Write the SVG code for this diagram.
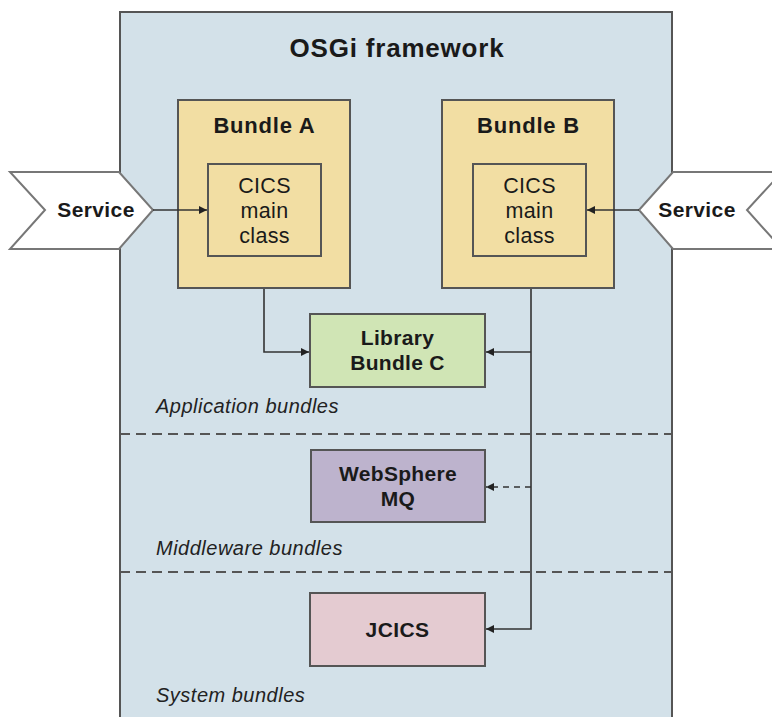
<svg xmlns="http://www.w3.org/2000/svg" width="772" height="717" viewBox="0 0 772 717">
<style>
.t{font-family:"Liberation Sans",Arial,sans-serif;fill:#1a1a1a;text-anchor:middle}
.b{font-weight:bold}
.lbl{font-family:"Liberation Sans",Arial,sans-serif;font-style:italic;fill:#222;font-size:20px;letter-spacing:0.5px}
.box{stroke:#555;stroke-width:2}
.conn{fill:none;stroke:#333;stroke-width:1.6}
.sep{stroke:#555;stroke-width:2;stroke-dasharray:10 6}
</style>
<defs>
<marker id="arr" viewBox="0 0 10 10" refX="10" refY="5" markerWidth="9" markerHeight="8" orient="auto" markerUnits="userSpaceOnUse">
<path d="M0,0 L10,5 L0,10 z" fill="#222"/>
</marker>
</defs>
<rect width="772" height="717" fill="#ffffff"/>
<g id="framework">
<rect x="120" y="12" width="552" height="710" fill="#d3e1e9"/>
<path d="M120,717 V12 H672 V717" fill="none" stroke="#555" stroke-width="2"/>
<text class="t b" x="397" y="57" font-size="26" letter-spacing="0.8">OSGi framework</text>
</g>
<g id="separators">
<line class="sep" x1="120" y1="434" x2="672" y2="434"/>
<line class="sep" x1="120" y1="572" x2="672" y2="572"/>
</g>
<g id="bundleA">
<rect class="box" x="178" y="100" width="172" height="188" fill="#f2dea3"/>
<text class="t b" x="264.5" y="133" font-size="22" letter-spacing="0.8">Bundle A</text>
<rect class="box" x="208" y="164" width="113" height="92" fill="#f2dea3"/>
<text class="t" x="264.5" y="193" font-size="21.5" letter-spacing="0.3">CICS</text>
<text class="t" x="264.5" y="218" font-size="21.5" letter-spacing="0.3">main</text>
<text class="t" x="264.5" y="243" font-size="21.5" letter-spacing="0.3">class</text>
</g>
<g id="bundleB">
<rect class="box" x="442" y="100" width="172" height="188" fill="#f2dea3"/>
<text class="t b" x="528.5" y="133" font-size="22" letter-spacing="0.8">Bundle B</text>
<rect class="box" x="473" y="164" width="113" height="92" fill="#f2dea3"/>
<text class="t" x="529.5" y="193" font-size="21.5" letter-spacing="0.3">CICS</text>
<text class="t" x="529.5" y="218" font-size="21.5" letter-spacing="0.3">main</text>
<text class="t" x="529.5" y="243" font-size="21.5" letter-spacing="0.3">class</text>
</g>
<g id="libraryC">
<rect class="box" x="310" y="314" width="175" height="73" fill="#d0e5b5"/>
<text class="t b" x="397.5" y="345" font-size="21" letter-spacing="0.3">Library</text>
<text class="t b" x="397.5" y="370" font-size="21" letter-spacing="0.3">Bundle C</text>
</g>
<g id="websphereMQ">
<rect class="box" x="311" y="450" width="174" height="72" fill="#bdb3cd"/>
<text class="t b" x="398" y="481" font-size="21" letter-spacing="0.3">WebSphere</text>
<text class="t b" x="398" y="506" font-size="21" letter-spacing="0.3">MQ</text>
</g>
<g id="jcics">
<rect class="box" x="310" y="593" width="175" height="73" fill="#e4cbd1"/>
<text class="t b" x="397.5" y="637" font-size="21" letter-spacing="0.4">JCICS</text>
</g>
<g id="labels">
<text class="lbl" x="156" y="413">Application bundles</text>
<text class="lbl" x="156" y="555">Middleware bundles</text>
<text class="lbl" x="156" y="702">System bundles</text>
</g>
<g id="serviceLeft">
<polygon points="10,172 119,172 153,210 119,249 10,249 45,210" fill="#ffffff" stroke="#777" stroke-width="2"/>
<text class="t b" x="96" y="217" font-size="21" letter-spacing="0.4">Service</text>
</g>
<g id="serviceRight">
<polygon points="639,210 673,172 782,172 747,210 782,249 673,249" fill="#ffffff" stroke="#777" stroke-width="2"/>
<text class="t b" x="697" y="217" font-size="21" letter-spacing="0.4">Service</text>
</g>
<g id="connectors">
<line class="conn" x1="153" y1="210" x2="207" y2="210" marker-end="url(#arr)"/>
<line class="conn" x1="639" y1="210" x2="587" y2="210" marker-end="url(#arr)"/>
<polyline class="conn" points="264,289 264,352 309,352" marker-end="url(#arr)"/>
<polyline class="conn" points="531,289 531,629 486,629" marker-end="url(#arr)"/>
<line class="conn" x1="531" y1="352" x2="486" y2="352" marker-end="url(#arr)"/>
<line class="conn" x1="531" y1="487" x2="486" y2="487" stroke-dasharray="6 5" marker-end="url(#arr)"/>
</g>
</svg>
